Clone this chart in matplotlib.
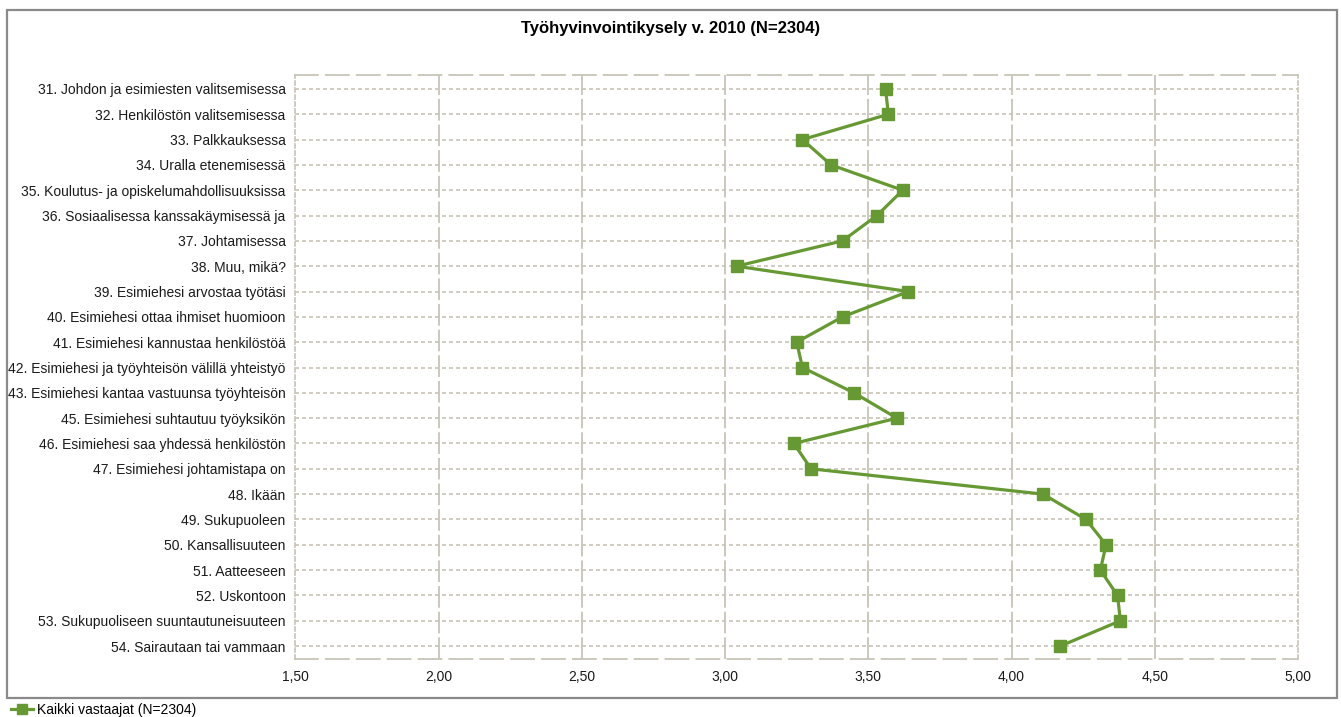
import matplotlib.pyplot as plt
from matplotlib.patches import Rectangle

plt.rcParams['font.family'] = ['Liberation Sans', 'DejaVu Sans']

# Kysymykset ja keskiarvot (kaikki vastaajat)
kysymykset = [
    "31. Johdon ja esimiesten valitsemisessa",
    "32. Henkilöstön valitsemisessa",
    "33. Palkkauksessa",
    "34. Uralla etenemisessä",
    "35. Koulutus- ja opiskelumahdollisuuksissa",
    "36. Sosiaalisessa kanssakäymisessä ja",
    "37. Johtamisessa",
    "38. Muu, mikä?",
    "39. Esimiehesi arvostaa työtäsi",
    "40. Esimiehesi ottaa ihmiset huomioon",
    "41. Esimiehesi kannustaa henkilöstöä",
    "42. Esimiehesi ja työyhteisön välillä yhteistyö",
    "43. Esimiehesi kantaa vastuunsa työyhteisön",
    "45. Esimiehesi suhtautuu työyksikön",
    "46. Esimiehesi saa yhdessä henkilöstön",
    "47. Esimiehesi johtamistapa on",
    "48. Ikään",
    "49. Sukupuoleen",
    "50. Kansallisuuteen",
    "51. Aatteeseen",
    "52. Uskontoon",
    "53. Sukupuoliseen suuntautuneisuuteen",
    "54. Sairautaan tai vammaan",
]
keskiarvot = [3.56, 3.57, 3.27, 3.37, 3.62, 3.53, 3.41, 3.04, 3.64, 3.41,
              3.25, 3.27, 3.45, 3.60, 3.24, 3.30, 4.11, 4.26, 4.33, 4.31,
              4.37, 4.38, 4.17]
x_ticks = [1.5, 2.0, 2.5, 3.0, 3.5, 4.0, 4.5, 5.0]

vihrea = '#669933'
harmaa = '#c8c4b8'

W, H = 1341, 717
fig = plt.figure(figsize=(W / 100, H / 100), dpi=100)

# kehys kuvaajan ympärillä
fig.patches.append(Rectangle((7 / W, (H - 698) / H), 1330 / W, 688 / H,
                             transform=fig.transFigure, fill=False,
                             edgecolor='#8a8a8a', linewidth=1.6))

ax = fig.add_axes([295.4 / W, (H - 659) / H, (1298 - 295.4) / W, (659 - 75) / H])

pos = list(range(len(kysymykset)))
ax.plot(keskiarvot, pos, color=vihrea, linewidth=2.3, marker='s',
        markersize=8, markerfacecolor=vihrea, markeredgecolor=vihrea,
        label='Kaikki vastaajat (N=2304)', zorder=3)

ax.set_xlim(1.5, 5.0)
ax.set_ylim(len(kysymykset) - 0.49, -0.55)
ax.set_xticks(x_ticks)
ax.set_xticklabels([f"{v:.2f}".replace('.', ',') for v in x_ticks], fontsize=10)
ax.set_yticks(pos)
ax.set_yticklabels(kysymykset, fontsize=10)
ax.tick_params(axis='both', length=0, colors='#1a1a1a')
ax.tick_params(axis='x', pad=8)
ax.tick_params(axis='y', pad=7)

# ruudukko: pystyviivat pitkillä katkoviivoilla, vaakaviivat lyhyillä
for v in x_ticks[1:-1]:
    ax.axvline(v, color=harmaa, linewidth=1.3, linestyle=(0, (12, 2.2)), zorder=1)
for p in pos:
    ax.axhline(p, color=harmaa, linewidth=1.2, linestyle=(0, (2.4, 1.8)), zorder=1)

for s in ['top', 'bottom']:
    ax.spines[s].set_color(harmaa)
    ax.spines[s].set_linewidth(1.3)
    ax.spines[s].set_linestyle((0, (12.7, 4.4)))
for s in ['left', 'right']:
    ax.spines[s].set_color(harmaa)
    ax.spines[s].set_linewidth(1.2)
    ax.spines[s].set_linestyle((0, (2.4, 1.8)))

fig.text(0.5, (H - 28) / H, 'Työhyvinvointikysely v. 2010 (N=2304)',
         ha='center', va='center', fontsize=12, fontweight='bold')

fig.legend(loc='lower left', bbox_to_anchor=(0.004, -0.008), frameon=False,
           fontsize=10, handlelength=1.6, handletextpad=0.3, borderaxespad=0,
           markerscale=0.9)

fig.savefig('out.png', dpi=100, facecolor='white')
